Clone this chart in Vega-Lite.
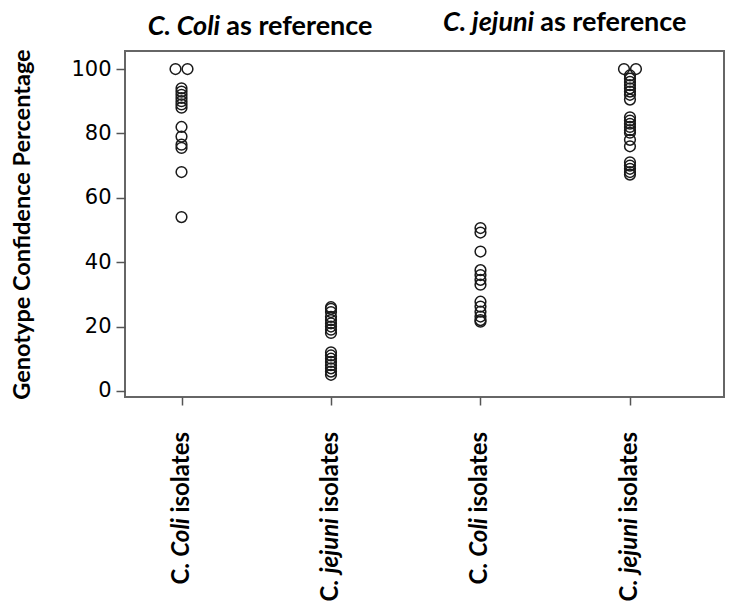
{
  "$schema": "https://vega.github.io/schema/vega-lite/v6.json",
  "width": 599,
  "height": 346,
  "autosize": "none",
  "padding": {"left": 125, "top": 51, "right": 5, "bottom": 208},
  "background": "white",
  "config": {"view": {"stroke": "#666", "strokeWidth": 2}},
  "datasets": {
    "points": [
      {"idx": 1, "isolates": "C. coli", "reference": "C. coli", "value": 100, "side": "L"},
      {"idx": 1, "isolates": "C. coli", "reference": "C. coli", "value": 100, "side": "R"},
      {"idx": 1, "isolates": "C. coli", "reference": "C. coli", "value": 94, "side": "C"},
      {"idx": 1, "isolates": "C. coli", "reference": "C. coli", "value": 93, "side": "C"},
      {"idx": 1, "isolates": "C. coli", "reference": "C. coli", "value": 92, "side": "C"},
      {"idx": 1, "isolates": "C. coli", "reference": "C. coli", "value": 91, "side": "C"},
      {"idx": 1, "isolates": "C. coli", "reference": "C. coli", "value": 90, "side": "C"},
      {"idx": 1, "isolates": "C. coli", "reference": "C. coli", "value": 89, "side": "C"},
      {"idx": 1, "isolates": "C. coli", "reference": "C. coli", "value": 88, "side": "C"},
      {"idx": 1, "isolates": "C. coli", "reference": "C. coli", "value": 82, "side": "C"},
      {"idx": 1, "isolates": "C. coli", "reference": "C. coli", "value": 79, "side": "C"},
      {"idx": 1, "isolates": "C. coli", "reference": "C. coli", "value": 76.5, "side": "C"},
      {"idx": 1, "isolates": "C. coli", "reference": "C. coli", "value": 75.5, "side": "C"},
      {"idx": 1, "isolates": "C. coli", "reference": "C. coli", "value": 68, "side": "C"},
      {"idx": 1, "isolates": "C. coli", "reference": "C. coli", "value": 54, "side": "C"},
      {"idx": 2, "isolates": "C. jejuni", "reference": "C. coli", "value": 26, "side": "C"},
      {"idx": 2, "isolates": "C. jejuni", "reference": "C. coli", "value": 25.5, "side": "C"},
      {"idx": 2, "isolates": "C. jejuni", "reference": "C. coli", "value": 24.5, "side": "C"},
      {"idx": 2, "isolates": "C. jejuni", "reference": "C. coli", "value": 23, "side": "C"},
      {"idx": 2, "isolates": "C. jejuni", "reference": "C. coli", "value": 22, "side": "C"},
      {"idx": 2, "isolates": "C. jejuni", "reference": "C. coli", "value": 21, "side": "C"},
      {"idx": 2, "isolates": "C. jejuni", "reference": "C. coli", "value": 20, "side": "C"},
      {"idx": 2, "isolates": "C. jejuni", "reference": "C. coli", "value": 19, "side": "C"},
      {"idx": 2, "isolates": "C. jejuni", "reference": "C. coli", "value": 18, "side": "C"},
      {"idx": 2, "isolates": "C. jejuni", "reference": "C. coli", "value": 12, "side": "C"},
      {"idx": 2, "isolates": "C. jejuni", "reference": "C. coli", "value": 11, "side": "C"},
      {"idx": 2, "isolates": "C. jejuni", "reference": "C. coli", "value": 10, "side": "C"},
      {"idx": 2, "isolates": "C. jejuni", "reference": "C. coli", "value": 9, "side": "C"},
      {"idx": 2, "isolates": "C. jejuni", "reference": "C. coli", "value": 8, "side": "C"},
      {"idx": 2, "isolates": "C. jejuni", "reference": "C. coli", "value": 7, "side": "C"},
      {"idx": 2, "isolates": "C. jejuni", "reference": "C. coli", "value": 6, "side": "C"},
      {"idx": 2, "isolates": "C. jejuni", "reference": "C. coli", "value": 5, "side": "C"},
      {"idx": 3, "isolates": "C. coli", "reference": "C. jejuni", "value": 50.6, "side": "C"},
      {"idx": 3, "isolates": "C. coli", "reference": "C. jejuni", "value": 49.2, "side": "C"},
      {"idx": 3, "isolates": "C. coli", "reference": "C. jejuni", "value": 43.3, "side": "C"},
      {"idx": 3, "isolates": "C. coli", "reference": "C. jejuni", "value": 37.5, "side": "C"},
      {"idx": 3, "isolates": "C. coli", "reference": "C. jejuni", "value": 36, "side": "C"},
      {"idx": 3, "isolates": "C. coli", "reference": "C. jejuni", "value": 34.5, "side": "C"},
      {"idx": 3, "isolates": "C. coli", "reference": "C. jejuni", "value": 33, "side": "C"},
      {"idx": 3, "isolates": "C. coli", "reference": "C. jejuni", "value": 27.7, "side": "C"},
      {"idx": 3, "isolates": "C. coli", "reference": "C. jejuni", "value": 26.2, "side": "C"},
      {"idx": 3, "isolates": "C. coli", "reference": "C. jejuni", "value": 24.6, "side": "C"},
      {"idx": 3, "isolates": "C. coli", "reference": "C. jejuni", "value": 23.1, "side": "C"},
      {"idx": 3, "isolates": "C. coli", "reference": "C. jejuni", "value": 22, "side": "C"},
      {"idx": 3, "isolates": "C. coli", "reference": "C. jejuni", "value": 21.5, "side": "C"},
      {"idx": 4, "isolates": "C. jejuni", "reference": "C. jejuni", "value": 100, "side": "L"},
      {"idx": 4, "isolates": "C. jejuni", "reference": "C. jejuni", "value": 100, "side": "R"},
      {"idx": 4, "isolates": "C. jejuni", "reference": "C. jejuni", "value": 98, "side": "C"},
      {"idx": 4, "isolates": "C. jejuni", "reference": "C. jejuni", "value": 97, "side": "C"},
      {"idx": 4, "isolates": "C. jejuni", "reference": "C. jejuni", "value": 96, "side": "C"},
      {"idx": 4, "isolates": "C. jejuni", "reference": "C. jejuni", "value": 95, "side": "C"},
      {"idx": 4, "isolates": "C. jejuni", "reference": "C. jejuni", "value": 94, "side": "C"},
      {"idx": 4, "isolates": "C. jejuni", "reference": "C. jejuni", "value": 93, "side": "C"},
      {"idx": 4, "isolates": "C. jejuni", "reference": "C. jejuni", "value": 92, "side": "C"},
      {"idx": 4, "isolates": "C. jejuni", "reference": "C. jejuni", "value": 90.5, "side": "C"},
      {"idx": 4, "isolates": "C. jejuni", "reference": "C. jejuni", "value": 85, "side": "C"},
      {"idx": 4, "isolates": "C. jejuni", "reference": "C. jejuni", "value": 84, "side": "C"},
      {"idx": 4, "isolates": "C. jejuni", "reference": "C. jejuni", "value": 83, "side": "C"},
      {"idx": 4, "isolates": "C. jejuni", "reference": "C. jejuni", "value": 82, "side": "C"},
      {"idx": 4, "isolates": "C. jejuni", "reference": "C. jejuni", "value": 81, "side": "C"},
      {"idx": 4, "isolates": "C. jejuni", "reference": "C. jejuni", "value": 80.2, "side": "C"},
      {"idx": 4, "isolates": "C. jejuni", "reference": "C. jejuni", "value": 78, "side": "C"},
      {"idx": 4, "isolates": "C. jejuni", "reference": "C. jejuni", "value": 76, "side": "C"},
      {"idx": 4, "isolates": "C. jejuni", "reference": "C. jejuni", "value": 71, "side": "C"},
      {"idx": 4, "isolates": "C. jejuni", "reference": "C. jejuni", "value": 70, "side": "C"},
      {"idx": 4, "isolates": "C. jejuni", "reference": "C. jejuni", "value": 69, "side": "C"},
      {"idx": 4, "isolates": "C. jejuni", "reference": "C. jejuni", "value": 68, "side": "C"},
      {"idx": 4, "isolates": "C. jejuni", "reference": "C. jejuni", "value": 67.2, "side": "C"}
    ],
    "xlabels": [
      {"idx": 1, "species": "Coli"},
      {"idx": 2, "species": "jejuni"},
      {"idx": 3, "species": "Coli"},
      {"idx": 4, "species": "jejuni"}
    ],
    "titles": [
      {"idx": 1.5, "ref": "C. Coli"},
      {"idx": 3.5, "ref": "C. jejuni"}
    ]
  },
  "encoding": {
    "x": {
      "field": "idx",
      "type": "quantitative",
      "scale": {"domain": [0.622, 4.629], "nice": false, "zero": false},
      "axis": {"values": [1, 2, 3, 4], "labels": false, "title": null, "domain": false, "grid": false, "ticks": true, "tickSize": 8, "tickColor": "#555", "tickWidth": 1.5}
    }
  },
  "layer": [
    {
      "data": {"name": "points"},
      "transform": [{"filter": "datum.side === 'C'"}],
      "mark": {"type": "point", "shape": "circle", "filled": false, "size": 115, "stroke": "#1a1a1a", "strokeWidth": 1.5, "opacity": 1},
      "encoding": {
        "y": {
          "field": "value",
          "type": "quantitative",
          "scale": {"domain": [-1.9, 105.6], "nice": false, "zero": false},
          "axis": {"values": [0, 20, 40, 60, 80, 100], "title": "Genotype Confidence Percentage", "titleFont": "Lato", "titleFontWeight": "bold", "titleFontSize": 23.5, "titleColor": "#000", "titlePadding": 36, "labelFont": "DejaVu Sans", "labelFontSize": 21, "labelColor": "#000", "labelPadding": 5, "tickSize": 9, "tickColor": "#555", "tickWidth": 1.5, "domain": false, "grid": false}
        }
      }
    },
    {
      "data": {"name": "points"},
      "transform": [{"filter": "datum.side === 'L'"}],
      "mark": {"type": "point", "shape": "circle", "filled": false, "size": 115, "stroke": "#1a1a1a", "strokeWidth": 1.5, "opacity": 1, "xOffset": -6},
      "encoding": {"y": {"field": "value", "type": "quantitative"}}
    },
    {
      "data": {"name": "points"},
      "transform": [{"filter": "datum.side === 'R'"}],
      "mark": {"type": "point", "shape": "circle", "filled": false, "size": 115, "stroke": "#1a1a1a", "strokeWidth": 1.5, "opacity": 1, "xOffset": 6},
      "encoding": {"y": {"field": "value", "type": "quantitative"}}
    },
    {
      "data": {"name": "xlabels"},
      "mark": {"type": "text", "text": "isolates", "angle": 270, "align": "right", "baseline": "middle", "dx": -35, "font": "Lato", "fontWeight": "bold", "fontSize": 24, "color": "#000"},
      "encoding": {"y": {"datum": -1.9, "type": "quantitative"}}
    },
    {
      "data": {"name": "xlabels"},
      "mark": {"type": "text", "angle": 270, "align": "right", "baseline": "middle", "dx": -121, "font": "Lato", "fontWeight": "bold", "fontStyle": "italic", "fontSize": 24, "color": "#000"},
      "encoding": {"y": {"datum": -1.9, "type": "quantitative"}, "text": {"field": "species"}}
    },
    {
      "data": {"name": "xlabels"},
      "transform": [{"filter": "datum.species === 'Coli'"}],
      "mark": {"type": "text", "text": "C.", "angle": 270, "align": "right", "baseline": "middle", "dx": -166, "font": "Lato", "fontWeight": "bold", "fontSize": 24, "color": "#000"},
      "encoding": {"y": {"datum": -1.9, "type": "quantitative"}}
    },
    {
      "data": {"name": "xlabels"},
      "transform": [{"filter": "datum.species === 'jejuni'"}],
      "mark": {"type": "text", "text": "C.", "angle": 270, "align": "right", "baseline": "middle", "dx": -183, "font": "Lato", "fontWeight": "bold", "fontSize": 24, "color": "#000"},
      "encoding": {"y": {"datum": -1.9, "type": "quantitative"}}
    },
    {
      "data": {"name": "titles"},
      "transform": [{"filter": "datum.idx === 1.5"}],
      "mark": {"type": "text", "align": "right", "baseline": "alphabetic", "dx": -36, "dy": -16, "font": "Lato", "fontWeight": "bold", "fontStyle": "italic", "fontSize": 27, "color": "#000"},
      "encoding": {"y": {"datum": 105.6, "type": "quantitative"}, "text": {"field": "ref"}}
    },
    {
      "data": {"name": "titles"},
      "transform": [{"filter": "datum.idx === 1.5"}],
      "mark": {"type": "text", "text": "as reference", "align": "left", "baseline": "alphabetic", "dx": -30, "dy": -16, "font": "Lato", "fontWeight": "bold", "fontSize": 27, "color": "#000"},
      "encoding": {"y": {"datum": 105.6, "type": "quantitative"}}
    },
    {
      "data": {"name": "titles"},
      "transform": [{"filter": "datum.idx === 3.5"}],
      "mark": {"type": "text", "align": "right", "baseline": "alphabetic", "dx": -21, "dy": -20, "font": "Lato", "fontWeight": "bold", "fontStyle": "italic", "fontSize": 27, "color": "#000"},
      "encoding": {"y": {"datum": 105.6, "type": "quantitative"}, "text": {"field": "ref"}}
    },
    {
      "data": {"name": "titles"},
      "transform": [{"filter": "datum.idx === 3.5"}],
      "mark": {"type": "text", "text": "as reference", "align": "left", "baseline": "alphabetic", "dx": -15, "dy": -20, "font": "Lato", "fontWeight": "bold", "fontSize": 27, "color": "#000"},
      "encoding": {"y": {"datum": 105.6, "type": "quantitative"}}
    }
  ]
}
